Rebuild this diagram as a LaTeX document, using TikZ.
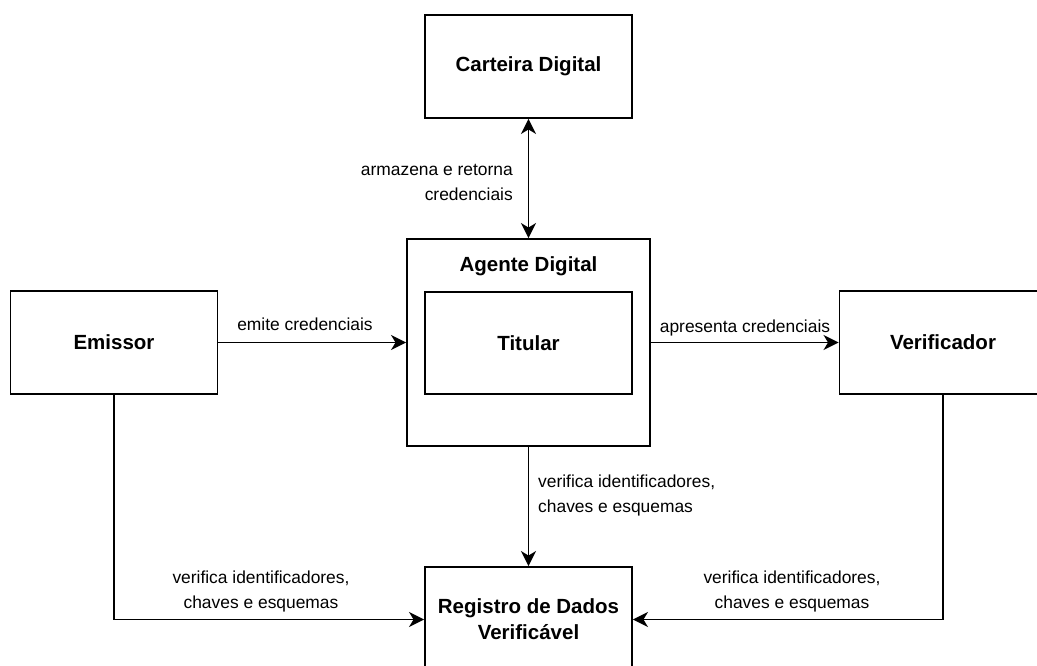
\documentclass[tikz,border=0pt]{standalone}
\usepackage{fontspec}
\setmainfont{Liberation Sans}
\usetikzlibrary{arrows.meta}
\begin{document}
\begin{tikzpicture}[x=1pt,y=-1pt,
  box/.style={draw, line width=1.9pt, minimum width=207pt, minimum height=103pt,
    inner sep=0pt, align=center, font=\fontsize{20.5}{26}\selectfont\bfseries},
  title/.style={inner sep=0pt, font=\fontsize{20.5}{26}\selectfont\bfseries},
  lbl/.style={inner sep=0pt, font=\fontsize{17.4}{25}\selectfont},
  tip/.tip={Stealth[length=15pt,width=15pt,inset=4.5pt]},
  conn/.style={line width=1.9pt, -tip},
  bconn/.style={line width=1.9pt, tip-tip}]
\useasboundingbox (0,0) rectangle (1037,666);

% boxes
\node[box] (carteira) at (528.5,66.5) {Carteira Digital};
\node[box, minimum width=243pt, minimum height=207pt] (agente) at (528.5,342.5) {};
\node[title] (agentet) at (528.5,266) {Agente Digital};
\node[box, minimum height=102pt] (titular) at (528.5,343) {Titular};
\node[box] (emissor) at (114,342.5) {Emissor};
\node[box] (verificador) at (943,342.5) {Verificador};
\node[box, minimum height=105pt] (registro) at (528.5,619.5) {Registro de Dados\\Verificável};

% connectors
\draw[bconn] (carteira.south) -- (agente.north);
\draw[conn] (emissor.east) -- (agente.west);
\draw[conn] (agente.east) -- (verificador.west);
\draw[conn] (agente.south) -- (registro.north);
\draw[conn] (emissor.south) |- (registro.west);
\draw[conn] (verificador.south) |- (registro.east);

% connector labels
\node[lbl, align=right, anchor=east] (l1) at (513,182.5) {armazena e retorna\\credenciais};
\node[lbl] (l2) at (305,324) {emite credenciais};
\node[lbl] (l3) at (745,328) {apresenta credenciais};
\node[lbl, align=left, anchor=west] (l4) at (538,495) {verifica identificadores,\\chaves e esquemas};
\node[lbl, align=center] (l5) at (261,591.5) {verifica identificadores,\\chaves e esquemas};
\node[lbl, align=center] (l6) at (792,591.5) {verifica identificadores,\\chaves e esquemas};
\end{tikzpicture}
\end{document}
